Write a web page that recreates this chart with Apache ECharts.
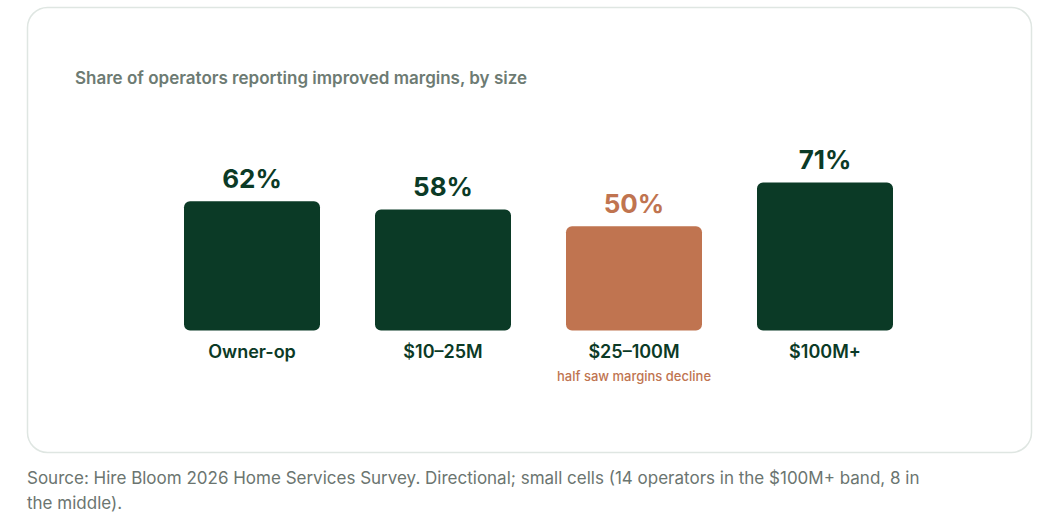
<!DOCTYPE html>
<html>
<head>
<meta charset="utf-8">
<script src="https://cdn.jsdelivr.net/npm/echarts@6/dist/echarts.min.js"></script>
<style>
  html, body { margin: 0; padding: 0; background: #ffffff; }
  #chart { width: 1058px; height: 523px; }
</style>
</head>
<body>
<div id="chart"></div>
<script>
  const categories = ['Owner-op', '$10–25M', '$25–100M', '$100M+'];
  const shares = [62, 58, 50, 71];
  const notes = ['', '', 'half saw margins decline', ''];
  const highlight = [false, false, true, false];

  const green = '#0b3a26';
  const clay = '#c07450';
  const font = 'Inter, "DejaVu Sans", sans-serif';

  const chart = echarts.init(document.getElementById('chart'), null, {renderer: 'svg'});

  chart.setOption({
    animation: false,
    textStyle: {fontFamily: font},
    title: {
      text: 'Share of operators reporting improved margins, by size',
      left: 70,
      top: 64,
      textStyle: {fontSize: 17, fontWeight: 600, color: '#6d7b73', fontFamily: font}
    },
    graphic: [
      {
        type: 'rect',
        z: -10,
        shape: {x: 27.5, y: 7.5, width: 1004, height: 445, r: 20},
        style: {fill: '#ffffff', stroke: '#dfe6e2', lineWidth: 1.5}
      },
      {
        type: 'text',
        left: 27,
        top: 465,
        style: {
          text: 'Source: Hire Bloom 2026 Home Services Survey. Directional; small cells (14 operators in the $100M+ band, 8 in\nthe middle).',
          font: '400 17px ' + font,
          fill: '#6b7570',
          lineHeight: 25
        }
      }
    ],
    grid: {left: 156.5, right: 137.5, top: 122, bottom: 192.5},
    xAxis: {
      type: 'category',
      data: categories,
      axisLine: {show: false},
      axisTick: {show: false},
      axisLabel: {
        interval: 0,
        margin: 10,
        formatter: function (value, i) {
          return notes[i] ? '{c|' + value + '}\n{n|' + notes[i] + '}' : '{c|' + value + '}';
        },
        rich: {
          c: {fontSize: 18, fontWeight: 600, color: green, lineHeight: 22, fontFamily: font},
          n: {fontSize: 13, fontWeight: 500, color: clay, lineHeight: 27, fontFamily: font}
        }
      }
    },
    yAxis: {
      type: 'value',
      min: 0,
      max: 100,
      show: false,
      splitLine: {show: false}
    },
    series: [{
      type: 'bar',
      barWidth: 136,
      data: shares.map(function (v, i) {
        const c = highlight[i] ? clay : green;
        return {
          value: v,
          itemStyle: {color: c, borderRadius: 6},
          label: {color: c}
        };
      }),
      label: {
        show: true,
        position: 'top',
        distance: 10,
        fontSize: 26,
        fontWeight: 700,
        fontFamily: font,
        formatter: '{c}%'
      }
    }]
  });
</script>
</body>
</html>
